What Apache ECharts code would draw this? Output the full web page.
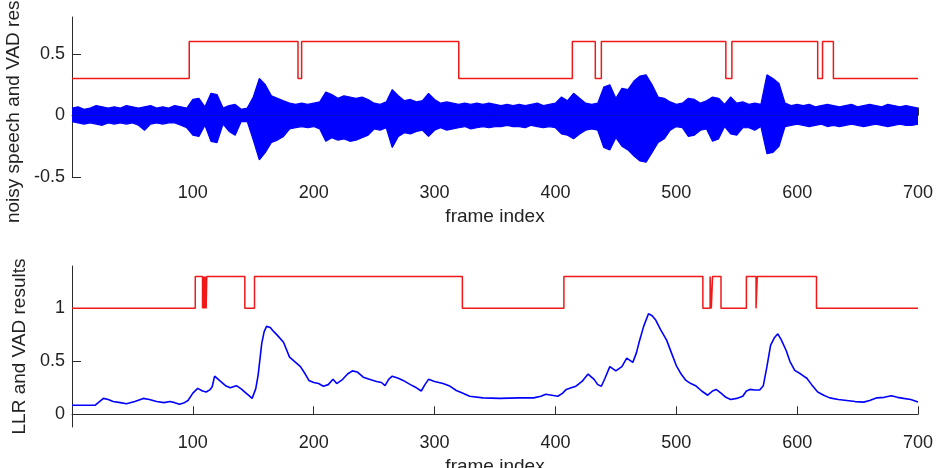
<!DOCTYPE html>
<html>
<head>
<meta charset="utf-8">
<script src="https://cdn.jsdelivr.net/npm/echarts@6/dist/echarts.min.js"></script>
<style>
  html, body { margin: 0; padding: 0; background: #fff; }
  #chart { width: 942px; height: 468px; }
</style>
</head>
<body>
<div id="chart"></div>
<script>
// frames sampled every 5 for the waveform envelope (0..700)
const waveFrames = []
for (let f = 0; f <= 700; f += 5) waveFrames.push(f)

// upper / lower envelope of the noisy speech waveform
const waveUpper = [
  0.06, 0.07, 0.05, 0.06, 0.08, 0.07, 0.06, 0.07, 0.06, 0.08,
  0.07, 0.06, 0.07, 0.08, 0.06, 0.07, 0.06, 0.08, 0.07, 0.06,
  0.13, 0.14, 0.07, 0.18, 0.17, 0.06, 0.08, 0.09, 0.05, 0.06,
  0.15, 0.30, 0.25, 0.16, 0.14, 0.12, 0.10, 0.09, 0.10, 0.09,
  0.10, 0.11, 0.19, 0.17, 0.14, 0.16, 0.15, 0.14, 0.15, 0.13,
  0.10, 0.09, 0.11, 0.21, 0.16, 0.12, 0.13, 0.11, 0.12, 0.18,
  0.13, 0.10, 0.11, 0.10, 0.09, 0.10, 0.09, 0.10, 0.09, 0.10,
  0.09, 0.08, 0.09, 0.08, 0.09, 0.08, 0.09, 0.10, 0.08, 0.09,
  0.10, 0.15, 0.12, 0.18, 0.14, 0.10, 0.09, 0.10, 0.23, 0.25,
  0.14, 0.22, 0.21, 0.28, 0.32, 0.33, 0.25, 0.15, 0.14, 0.11,
  0.09, 0.10, 0.14, 0.13, 0.10, 0.12, 0.15, 0.14, 0.09, 0.15,
  0.10, 0.11, 0.09, 0.10, 0.09, 0.33, 0.30, 0.26, 0.10, 0.08,
  0.09, 0.08, 0.09, 0.07, 0.08, 0.09, 0.08, 0.07, 0.08, 0.09,
  0.07, 0.08, 0.09, 0.08, 0.07, 0.09, 0.08, 0.07, 0.08, 0.07,
  0.06
]
const waveLower = [
  -0.05, -0.06, -0.07, -0.06, -0.07, -0.08, -0.06, -0.07, -0.06, -0.07,
  -0.06, -0.08, -0.12, -0.07, -0.06, -0.07, -0.06, -0.06, -0.08, -0.10,
  -0.16, -0.17, -0.08, -0.21, -0.22, -0.07, -0.13, -0.16, -0.05, -0.05,
  -0.20, -0.36, -0.30, -0.22, -0.20, -0.17, -0.11, -0.10, -0.09, -0.10,
  -0.09, -0.11, -0.21, -0.18, -0.20, -0.19, -0.21, -0.20, -0.18, -0.16,
  -0.11, -0.12, -0.10, -0.26, -0.17, -0.14, -0.15, -0.13, -0.12, -0.17,
  -0.12, -0.10, -0.12, -0.11, -0.10, -0.09, -0.11, -0.10, -0.09, -0.10,
  -0.09, -0.09, -0.08, -0.09, -0.09, -0.10, -0.08, -0.09, -0.10, -0.09,
  -0.10, -0.15, -0.16, -0.19, -0.15, -0.12, -0.11, -0.12, -0.26, -0.28,
  -0.18, -0.25, -0.28, -0.33, -0.37, -0.38, -0.30, -0.22, -0.19, -0.12,
  -0.09, -0.10, -0.17, -0.16, -0.12, -0.11, -0.21, -0.19, -0.09, -0.15,
  -0.16, -0.10, -0.10, -0.12, -0.09, -0.31, -0.30, -0.25, -0.09, -0.08,
  -0.07, -0.08, -0.09, -0.08, -0.07, -0.09, -0.08, -0.09, -0.08, -0.07,
  -0.08, -0.09, -0.08, -0.07, -0.08, -0.09, -0.08, -0.07, -0.08, -0.08,
  -0.07
]

// VAD decisions (top plot): frame where the value changes, and the plotted level
const vadTopFrames = [0, 97, 187, 190, 320, 414, 433, 438, 541, 546, 617, 621, 630, 700]
const vadTopLevels = [0.3, 0.6, 0.3, 0.6, 0.3, 0.6, 0.3, 0.6, 0.3, 0.6, 0.3, 0.6, 0.3, 0.3]

// LLR curve (bottom plot)
const llrFrames = [
  0, 19, 26, 30, 34, 40, 45, 52, 59, 64, 70, 76, 81, 85, 89, 93, 96, 100, 104, 108,
  111, 114, 116, 118, 122, 127, 131, 136, 140, 143, 146, 149, 152, 154, 157, 159, 161, 164, 167, 170,
  175, 180, 185, 189, 193, 196, 200, 204, 208, 212, 216, 219, 224, 228, 232, 236, 241, 246, 252, 256,
  259, 262, 265, 270, 274, 280, 285, 289, 292, 295, 300, 307, 312, 318, 323, 329, 340, 354, 370, 382,
  388, 392, 397, 402, 406, 409, 413, 417, 422, 427, 432, 435, 438, 441, 445, 450, 455, 459, 464, 467,
  469, 473, 477, 480, 483, 487, 492, 496, 500, 504, 508, 512, 516, 521, 526, 530, 533, 537, 541, 545,
  550, 555, 558, 561, 565, 569, 572, 575, 578, 581, 584, 587, 591, 594, 598, 603, 608, 612, 617, 622,
  627, 634, 641, 648, 655, 660, 666, 672, 678, 683, 688, 694, 700
]
const llrValues = [
  0.085, 0.085, 0.15, 0.14, 0.12, 0.11, 0.10, 0.12, 0.15, 0.14, 0.12, 0.11, 0.12, 0.11, 0.095, 0.11, 0.13, 0.20, 0.245, 0.22,
  0.21, 0.23, 0.26, 0.36, 0.32, 0.27, 0.25, 0.27, 0.24, 0.21, 0.18, 0.15, 0.24, 0.37, 0.67, 0.78, 0.83, 0.82, 0.78, 0.745,
  0.68, 0.54, 0.49, 0.45, 0.38, 0.32, 0.30, 0.29, 0.265, 0.28, 0.33, 0.29, 0.33, 0.38, 0.41, 0.40, 0.35, 0.33, 0.31, 0.30,
  0.27, 0.33, 0.36, 0.34, 0.32, 0.28, 0.25, 0.22, 0.28, 0.33, 0.31, 0.29, 0.27, 0.225, 0.20, 0.17, 0.155, 0.15, 0.155, 0.155,
  0.17, 0.19, 0.18, 0.17, 0.20, 0.235, 0.25, 0.265, 0.31, 0.38, 0.33, 0.28, 0.265, 0.34, 0.45, 0.41, 0.45, 0.53, 0.49, 0.58,
  0.67, 0.83, 0.95, 0.93, 0.89, 0.80, 0.70, 0.58, 0.46, 0.38, 0.32, 0.29, 0.27, 0.22, 0.18, 0.22, 0.235, 0.20, 0.16, 0.14,
  0.15, 0.17, 0.22, 0.235, 0.23, 0.23, 0.27, 0.45, 0.65, 0.72, 0.76, 0.70, 0.60, 0.50, 0.415, 0.38, 0.34, 0.28, 0.21, 0.18,
  0.155, 0.14, 0.13, 0.12, 0.115, 0.13, 0.155, 0.16, 0.175, 0.16, 0.15, 0.14, 0.115
]

// VAD decisions (bottom plot)
const vadBotFrames = [0, 102, 108, 108.5, 109, 109.5, 110, 110.5, 111, 111.5, 112, 143, 151, 323, 407, 522, 528, 529, 530, 537, 558, 566, 567, 616, 700]
const vadBotLevels = [1, 1.3, 1, 1.3, 1, 1.3, 1, 1.3, 1, 1.3, 1.3, 1, 1.3, 1, 1.3, 1, 1.3, 1, 1.3, 1, 1.3, 1, 1.3, 1, 1]

const xTicks = [100, 200, 300, 400, 500, 600, 700]
const yTicksTop = [-0.5, 0, 0.5]
const yTicksBot = [0, 0.5, 1]

const chart = echarts.init(document.getElementById('chart'))

const font = 'Liberation Sans, Arial, sans-serif'
const axisColor = '#2a2a2a'
const red = '#f01818'
const blue = '#0000ff'

const xAxisCommon = (gridIndex) => ({
  type: 'value',
  gridIndex: gridIndex,
  min: 0,
  max: 700,
  interval: 100,
  name: 'frame index',
  nameLocation: 'middle',
  nameGap: 30,
  nameTextStyle: {color: '#222', fontSize: 19, fontFamily: font},
  axisLine: {lineStyle: {color: axisColor, width: 1}},
  axisTick: {inside: true, length: 8, customValues: xTicks, lineStyle: {color: axisColor}},
  axisLabel: {customValues: xTicks, color: '#222', fontSize: 18, fontFamily: font, margin: 7},
  splitLine: {show: false}
})

const yAxisCommon = (gridIndex, min, max, ticks, name, gap) => ({
  type: 'value',
  gridIndex: gridIndex,
  min: min,
  max: max,
  name: name,
  nameLocation: 'middle',
  nameGap: gap,
  nameTextStyle: {color: '#222', fontSize: 19, fontFamily: font},
  axisLine: {show: true, lineStyle: {color: axisColor, width: 1}},
  axisTick: {show: true, inside: true, length: 9, customValues: ticks, lineStyle: {color: axisColor}},
  axisLabel: {customValues: ticks, color: '#222', fontSize: 18, fontFamily: font, margin: 7},
  splitLine: {show: false}
})

// waveform drawn as two filled areas (0 -> upper envelope, 0 -> lower envelope)
const waveSeries = (values) => ({
  type: 'line',
  xAxisIndex: 0, yAxisIndex: 0,
  symbol: 'none',
  lineStyle: {width: 1.2, color: blue},
  areaStyle: {color: blue, opacity: 1, origin: 'auto'},
  data: waveFrames.map((f, i) => [f, values[i]])
})

const option = {
  animation: false,
  backgroundColor: '#fff',
  grid: [
    {left: 72, right: 24, top: 17, height: 160, outerBoundsMode: 'none'},
    {left: 72, right: 24, top: 266, height: 161, outerBoundsMode: 'none'}
  ],
  xAxis: [xAxisCommon(0), xAxisCommon(1)],
  yAxis: [
    yAxisCommon(0, -0.5, 0.8, yTicksTop, 'noisy speech and VAD results', 47),
    yAxisCommon(1, -0.12, 1.4, yTicksBot, 'LLR and VAD results', 42)
  ],
  series: [
    waveSeries(waveUpper),
    waveSeries(waveLower),
    {
      type: 'line',
      xAxisIndex: 0, yAxisIndex: 0,
      step: 'end',
      symbol: 'none',
      lineStyle: {width: 1.5, color: red},
      data: vadTopFrames.map((f, i) => [f, vadTopLevels[i]])
    },
    {
      type: 'line',
      xAxisIndex: 1, yAxisIndex: 1,
      symbol: 'none',
      lineStyle: {width: 1.6, color: blue},
      data: llrFrames.map((f, i) => [f, llrValues[i]])
    },
    {
      type: 'line',
      xAxisIndex: 1, yAxisIndex: 1,
      step: 'end',
      symbol: 'none',
      lineStyle: {width: 1.5, color: red},
      data: vadBotFrames.map((f, i) => [f, vadBotLevels[i]])
    }
  ]
}

chart.setOption(option)
</script>
</body>
</html>
